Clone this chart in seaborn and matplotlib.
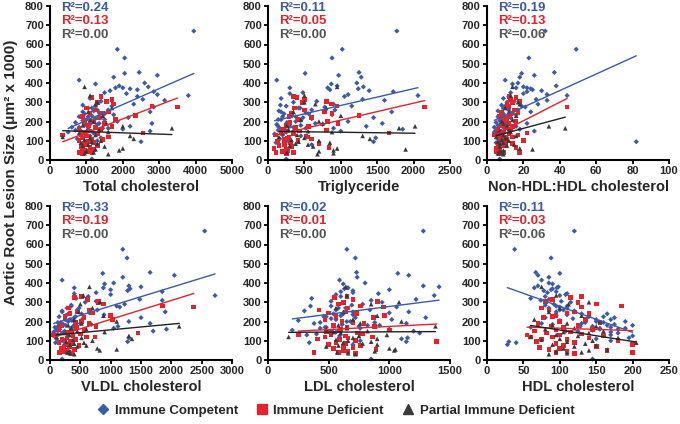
import numpy as np
import pandas as pd
import matplotlib
matplotlib.use("Agg")
import matplotlib.pyplot as plt
import seaborn as sns
from matplotlib.lines import Line2D

# ---------------- data (one entry per mouse) ----------------
# Immune Competent
blue_lesion = [670,575,530,455,450,440,430,415,400,395,385,380,375,375,370,365,360,355,350,345,
               340,335,330,320,315,310,305,300,290,285,280,275,270,260,255,250,245,240,235,225,
               220,215,210,205,200,195,190,185,180,175,170,165,160,155,150,145,130,115,95,80,5,
               280,270,260,250,240,230,225,220,210,200,195,190,185,180,175,170,165,160,150,140,
               135,125,110,100,90]
blue_tc = [3950,1850,2050,2450,2050,2950,1750,800,2600,1250,1900,2700,2000,1800,2200,2400,1650,2850,1500,2100,
           2950,3800,2400,1100,2550,3150,1400,1300,2300,900,1700,2850,1150,1600,1200,2750,1350,950,1750,1050,
           2150,1250,1500,900,1850,1100,2800,1300,1050,2200,800,1600,2000,700,2750,500,1000,1400,2500,900,1150,
           1250,1050,1300,900,1500,1150,800,1400,1000,1200,700,1350,1100,950,1250,600,1450,1050,850,1200,
           900,1100,750,1300,950]
blue_tg = [1770,1020,880,1250,510,970,1280,120,1220,870,950,1310,820,300,1240,850,1390,1720,480,300,
           1100,2060,1050,180,1300,1600,670,350,900,170,1150,780,440,920,150,1700,520,220,880,380,
           1450,600,180,450,1100,290,1570,750,130,1350,350,900,1850,140,1000,250,200,1480,1450,600,250,
           250,420,600,180,560,330,200,480,140,380,260,650,120,450,300,150,520,230,350,180,
           90,450,160,260,110]
blue_nh = [32,49,23,37,19,26,18,10,17,14,38,20,16,22,24,25,30,22,13,20,
           33,44,12,9,27,33,15,11,28,8,19,21,12,17,6,24,14,9,16,10,
           13,11,8,7,15,10,22,12,6,16,9,13,18,5,26,4,7,11,82,8,7,
           10,9,12,8,14,7,6,11,9,10,5,12,8,7,10,4,13,6,8,9,
           5,7,6,8,5]
blue_vldl = [2550,1200,1270,1650,870,2050,1200,200,1050,900,1300,1500,880,400,1320,1000,1280,1850,760,400,
             1000,2720,630,430,1480,1850,760,580,1230,350,1100,1150,480,780,200,1900,650,300,890,420,
             1500,540,250,360,1300,130,1650,680,150,1120,80,1050,1920,100,1700,60,120,1300,1280,240,200,
             350,280,450,200,520,260,150,400,330,300,180,500,220,260,380,120,350,160,240,200,
             130,300,110,200,90]
blue_ldl = [1280,650,720,730,1070,1160,735,590,800,620,1280,1410,660,650,630,1000,700,600,700,910,
            560,1370,600,360,1220,850,520,940,780,690,350,1060,580,840,300,1160,1000,540,700,460,
            1300,520,1020,250,680,880,1140,610,920,750,480,430,1000,200,1200,560,320,1150,1140,700,850,
            520,640,560,700,620,600,480,720,560,650,430,380,610,820,540,470,760,600,520,1250,
            400,590,1100,760,340]
blue_hdl = [120,38,88,67,100,70,85,75,85,90,70,98,96,65,90,88,78,95,83,110,
            108,100,80,60,85,74,102,115,92,80,110,100,85,105,120,95,110,130,110,160,
            80,118,170,100,150,135,75,90,165,128,60,155,180,145,108,170,170,195,30,28,145,
            95,110,100,120,165,95,140,175,150,190,160,130,175,200,145,170,190,155,125,180,
            160,200,150,170,40]

# Immune Deficient
red_lesion = [330,325,315,305,300,290,280,275,270,260,250,245,240,230,225,220,210,200,195,190,
              180,175,170,160,155,150,145,140,135,130,125,120,115,110,105,100,95,90,85,80,
              75,70,65,60,55,50,45,40,40,35,120,130]
red_tc = [1400,1150,1700,1550,1300,1750,2800,3500,1000,1250,1600,1450,1100,2350,900,1350,1800,1200,950,1500,
          1050,1700,1250,800,1400,1100,950,2550,1300,850,1000,1600,900,1150,1450,800,1050,1200,950,1000,
          1300,850,1100,900,1200,950,1050,800,1150,900,1600,350]
red_tg = [350,400,500,800,470,870,950,2150,360,500,780,320,880,1250,290,600,410,820,300,960,
          250,560,380,200,800,430,180,1660,350,100,520,290,270,600,220,410,130,310,700,230,
          150,320,840,80,250,270,200,110,350,250,540,100]
red_nh = [12,16,13,18,14,11,12,44,10,15,8,17,13,12,7,9,11,16,9,12,
          8,14,10,6,13,7,9,22,12,17,8,10,7,11,9,20,8,10,14,6,
          9,6,16,5,7,6,5,18,9,7,14,4]
red_vldl = [520,400,620,800,790,880,1850,2370,300,650,450,700,330,1000,250,560,1030,520,420,640,
            200,760,440,150,560,350,300,1450,500,100,380,600,280,200,420,250,330,150,360,280,
            480,320,230,180,400,270,220,160,300,350,740,50]
red_ldl = [650,550,700,900,620,580,760,950,660,420,640,500,730,960,560,870,470,610,700,790,
           540,880,650,600,1000,590,480,740,780,520,640,860,660,410,590,720,1390,560,640,500,
           760,620,700,540,890,620,660,380,580,720,470,250]
red_hdl = [130,115,90,80,125,150,185,130,75,85,120,110,140,95,90,78,135,100,155,70,
           125,88,105,145,95,65,115,82,130,100,160,90,140,75,110,180,68,120,95,200,
           105,150,72,100,85,165,110,95,200,120,60,55]

# Partial Immune Deficient
gray_lesion = [380,335,300,290,270,250,230,210,200,190,180,175,165,160,150,145,140,130,125,120,
               115,110,105,100,95,90,85,80,75,70,60,55,50,45,40,35,30]
gray_tc = [950,1100,1300,1250,1700,1050,1450,1100,1200,1550,900,2000,3350,1350,1000,1600,800,1250,2200,350,
           1100,2300,950,1400,1150,850,1300,1050,900,1500,2000,1250,1900,1000,1200,950,1600]
gray_tg = [950,500,500,650,800,350,1000,450,700,750,260,2020,1800,280,550,880,200,400,1300,150,
           500,1400,320,700,420,850,380,550,300,620,950,1890,900,700,260,900,680]
gray_nh = [14,13,17,18,10,12,16,14,8,9,11,34,43,12,7,13,6,9,16,5,
           10,11,8,12,6,9,7,15,11,7,18,25,9,7,8,6,9]
gray_vldl = [650,550,820,500,700,470,880,400,1100,520,300,2130,350,600,450,900,250,320,1300,100,
             520,1350,380,700,270,560,400,330,600,450,780,1100,820,320,280,330,400]
gray_ldl = [640,650,1080,850,560,620,900,700,1100,760,580,1380,650,480,820,540,600,980,750,170,
            700,900,560,660,850,620,780,900,580,480,1000,1050,1040,880,570,660,720]
gray_hdl = [75,95,140,112,100,85,130,65,155,110,90,150,120,80,160,105,140,95,125,60,
            180,100,75,145,110,205,135,90,150,120,105,165,140,95,130,110,85]

group_names = ["Immune Competent", "Immune Deficient", "Partial Immune Deficient"]

panel_keys = ["tc", "tg", "nh", "vldl", "ldl", "hdl"]
panel_labels = ["Total cholesterol", "Triglyceride", "Non-HDL:HDL cholesterol",
                "VLDL cholesterol", "LDL cholesterol", "HDL cholesterol"]
panel_xmax = [5000, 2500, 100, 3000, 1500, 250]
panel_xstep = [1000, 500, 20, 500, 500, 50]
r2_blue = ["0.24", "0.11", "0.19", "0.33", "0.02", "0.11"]
r2_red = ["0.13", "0.05", "0.13", "0.19", "0.01", "0.03"]
r2_gray = ["0.00", "0.00", "0.06", "0.00", "0.00", "0.06"]

# ---------------- build tables ----------------
def make_df(les, tc, tg, nh, vldl, ldl, hdl):
    return pd.DataFrame({"lesion": les, "tc": tc, "tg": tg, "nh": nh,
                         "vldl": vldl, "ldl": ldl, "hdl": hdl})

dfs = [make_df(blue_lesion, blue_tc, blue_tg, blue_nh, blue_vldl, blue_ldl, blue_hdl),
       make_df(red_lesion, red_tc, red_tg, red_nh, red_vldl, red_ldl, red_hdl),
       make_df(gray_lesion, gray_tc, gray_tg, gray_nh, gray_vldl, gray_ldl, gray_hdl)]

pt_colors = ["#3d5aa9", "#e5232c", "#3a3a3a"]
line_colors = ["#3d5aa9", "#e5232c", "#222222"]
txt_colors = ["#3d5aa9", "#e5232c", "#555555"]
markers = ["D", "s", "^"]
sizes = [7, 11, 11]
r2_all = [r2_blue, r2_red, r2_gray]

# ---------------- style ----------------
sns.set_style("ticks")
plt.rcParams["font.family"] = ["Liberation Sans", "DejaVu Sans"]
plt.rcParams["font.weight"] = "bold"
plt.rcParams["axes.labelweight"] = "bold"

W, H = 680, 424
fig = plt.figure(figsize=(W / 100, H / 100), dpi=100)

lefts = [50, 268, 487]
tops = [6, 206]
aw, ah = 182, 154

for i, key in enumerate(panel_keys):
    r, c = divmod(i, 3)
    ax = fig.add_axes([lefts[c] / W, 1 - (tops[r] + ah) / H, aw / W, ah / H])
    for g, df in enumerate(dfs):
        sns.scatterplot(data=df, x=key, y="lesion", ax=ax, marker=markers[g],
                        color=pt_colors[g], s=sizes[g], edgecolor="none",
                        linewidth=0, zorder=2 + g, clip_on=False)
    for g, df in enumerate(dfs):
        sns.regplot(data=df, x=key, y="lesion", ax=ax, scatter=False, ci=None,
                    truncate=True, color=line_colors[g],
                    line_kws={"lw": 1.0, "zorder": 6})
    ax.set_xlim(0, panel_xmax[i])
    ax.set_ylim(0, 800)
    ax.set_xticks(np.arange(0, panel_xmax[i] + 1, panel_xstep[i]))
    ax.set_yticks(np.arange(0, 801, 100))
    ax.tick_params(labelsize=8, width=1.3, length=3, pad=1.5, color="black")
    for lab in ax.get_xticklabels() + ax.get_yticklabels():
        lab.set_fontweight("bold")
    for s in ["top", "right"]:
        ax.spines[s].set_visible(False)
    for s in ["left", "bottom"]:
        ax.spines[s].set_linewidth(1.5)
        ax.spines[s].set_color("black")
    ax.set_xlabel(panel_labels[i], fontsize=10.5, fontweight="bold", labelpad=3)
    ax.set_ylabel("")
    for g in range(3):
        ax.text(0.06, 0.99 - 0.09 * g, "R\u00b2=" + r2_all[g][i], transform=ax.transAxes,
                color=txt_colors[g], fontsize=9.5, fontweight="bold", va="center", ha="left")

fig.text(0.016, 0.594, "Aortic Root Lesion Size (\u03bcm\u00b2 x 1000)", rotation=90,
         ha="center", va="center", fontsize=11, fontweight="bold")

handles = [Line2D([], [], linestyle="none", marker=markers[g], color=pt_colors[g],
                  markersize=[5.5, 6.5, 6.5][g]) for g in range(3)]
fig.legend(handles, group_names, loc="center", bbox_to_anchor=(0.494, 0.031), ncol=3,
           frameon=False, prop={"size": 9.5, "weight": "bold"}, handletextpad=0.5,
           columnspacing=1.4, handlelength=0.8)

fig.savefig("out.png", dpi=100)
